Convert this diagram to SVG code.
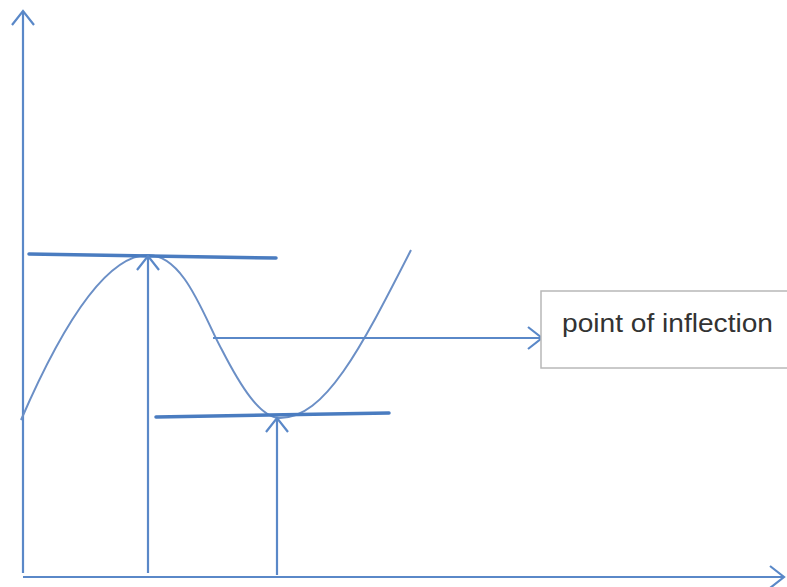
<svg xmlns="http://www.w3.org/2000/svg" width="787" height="587" viewBox="0 0 787 587">
<defs>
<style>
.ax{stroke:#5a88c8;stroke-width:2.2;fill:none}
.tan{stroke:#4a7cc0;stroke-width:3.5;fill:none;stroke-linecap:round}
.crv{stroke:#6b8fc6;stroke-width:2;fill:none}
.lbl{font-family:"Liberation Sans","Open Sans",Arial,sans-serif;font-size:26px;fill:#333}
</style>
<marker id="arr" viewBox="-16 -13 18 26" markerWidth="18" markerHeight="26" refX="0" refY="0" orient="auto" markerUnits="userSpaceOnUse">
<polyline points="-14,-11 0,0 -14,11" fill="none" stroke="#5a88c8" stroke-width="2.2"/>
</marker>
</defs>
<g id="axes">
<line class="ax" x1="23" y1="573" x2="23" y2="11" marker-end="url(#arr)"/>
<line class="ax" x1="23" y1="577" x2="784" y2="577" marker-end="url(#arr)"/>
</g>
<g id="curve">
<path class="crv" d="M21,420 C60,330 105,255 148,255 C185,255 205,320 222,350 C240,385 260,418 280,418 C325,418 360,350 411,250"/>
</g>
<g id="tangents">
<line class="tan" x1="29" y1="254" x2="276" y2="258"/>
<line class="tan" x1="156" y1="417" x2="389" y2="413"/>
</g>
<g id="connectors">
<line class="ax" x1="148" y1="573" x2="148" y2="256" marker-end="url(#arr)"/>
<line class="ax" x1="277" y1="575" x2="277" y2="418" marker-end="url(#arr)"/>
<line class="ax" x1="213" y1="338" x2="542" y2="338" marker-end="url(#arr)"/>
</g>
<g id="label">
<rect x="541" y="291" width="250" height="77" fill="#fff" stroke="#b8b8b8" stroke-width="1.5"/>
<text class="lbl" x="562" y="332" textLength="211" lengthAdjust="spacingAndGlyphs">point of inflection</text>
</g>
</svg>
